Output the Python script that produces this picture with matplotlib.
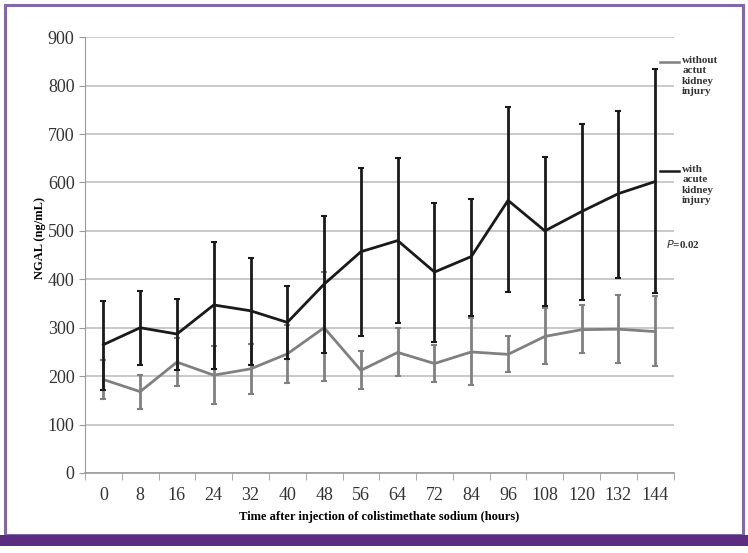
import matplotlib.pyplot as plt
import numpy as np
from matplotlib.patches import Rectangle

plt.rcParams['font.family'] = ['Liberation Serif', 'DejaVu Serif']

hours = ['0', '8', '16', '24', '32', '40', '48', '56', '64', '72', '84', '96', '108', '120', '132', '144']

# with acute kidney injury
aki_mean = [265, 300, 287, 347, 335, 311, 390, 457, 480, 415, 447, 563, 500, 540, 577, 602]
aki_hi = [355, 375, 360, 478, 445, 386, 530, 630, 650, 558, 566, 755, 652, 720, 747, 835]
aki_lo = [172, 222, 212, 214, 222, 235, 247, 283, 310, 270, 325, 373, 345, 357, 402, 372]

# without acute kidney injury
no_mean = [193, 168, 229, 202, 215, 246, 300, 212, 249, 226, 250, 245, 282, 296, 297, 292]
no_hi = [234, 202, 278, 263, 267, 305, 415, 251, 300, 264, 320, 283, 340, 346, 368, 365]
no_lo = [152, 133, 179, 143, 163, 186, 189, 173, 200, 187, 181, 209, 225, 247, 227, 220]

fig = plt.figure(figsize=(7.48, 5.53), dpi=100)

# purple frame
fig.patches.append(Rectangle((0.0067, 0.032), 0.987, 0.959, transform=fig.transFigure,
                             fill=False, edgecolor='#8068AA', lw=2.2))
fig.patches.append(Rectangle((0, 0.0127), 1, 0.0198, transform=fig.transFigure,
                             facecolor='#5B2C7F', edgecolor='none'))

ax = fig.add_axes([0.1136, 0.1447, 0.787, 0.788])
x = np.arange(len(hours))

ax.errorbar(x, no_mean, yerr=[np.array(no_mean) - no_lo, np.array(no_hi) - no_mean],
            color='#808080', lw=2, elinewidth=2, capsize=2.5, capthick=1.5, zorder=3)
ax.errorbar(x, aki_mean, yerr=[np.array(aki_mean) - aki_lo, np.array(aki_hi) - aki_mean],
            color='#1a1a1a', lw=2, elinewidth=2, capsize=2.5, capthick=1.5, zorder=4)

ax.set_xlim(-0.5, len(hours) - 0.5)
ax.set_ylim(0, 900)
ax.set_yticks(range(0, 901, 100))
ax.set_xticks(x)
ax.set_xticklabels(hours)
ax.set_xticks(np.arange(-0.5, len(hours)), minor=True)
ax.tick_params(axis='x', which='major', length=0, labelsize=13, pad=10)
ax.tick_params(axis='x', which='minor', length=5, color='#9a9a9a')
ax.tick_params(axis='y', length=4, color='#9a9a9a', labelsize=13, labelcolor='#333333')
ax.tick_params(axis='x', labelcolor='#333333')
ax.grid(axis='y', color='#c0c0c0', lw=1.2)
ax.set_axisbelow(True)
for s in ['top', 'right']:
    ax.spines[s].set_visible(False)
ax.spines['left'].set_color('#9a9a9a')
ax.spines['bottom'].set_color('#9a9a9a')
ax.spines['bottom'].set_linewidth(1.2)

ax.set_ylabel('NGAL (ng/mL)', fontsize=9, fontweight='bold')
ax.yaxis.set_label_coords(-0.066, 0.54)
ax.set_xlabel('Time after injection of colistimethate sodium (hours)', fontsize=9,
              fontweight='bold', labelpad=5)

# legend, drawn as in the source
fig.add_artist(plt.Line2D([0.882, 0.908], [0.888, 0.888], color='#808080', lw=1.8,
                          transform=fig.transFigure))
fig.text(0.912, 0.899, 'without\nactut\nkidney\ninjury', fontsize=8, fontweight='bold',
         va='top', ha='left', linespacing=1.2, color='#333333')
fig.add_artist(plt.Line2D([0.882, 0.908], [0.691, 0.691], color='#1a1a1a', lw=1.8,
                          transform=fig.transFigure))
fig.text(0.912, 0.702, 'with\nacute\nkidney\ninjury', fontsize=8, fontweight='bold',
         va='top', ha='left', linespacing=1.2, color='#333333')
fig.text(0.891, 0.558, '$\\mathit{P}$=0.02', fontsize=8, fontweight='bold', color='#333333',
         va='center')

fig.savefig('out.png', dpi=100)
